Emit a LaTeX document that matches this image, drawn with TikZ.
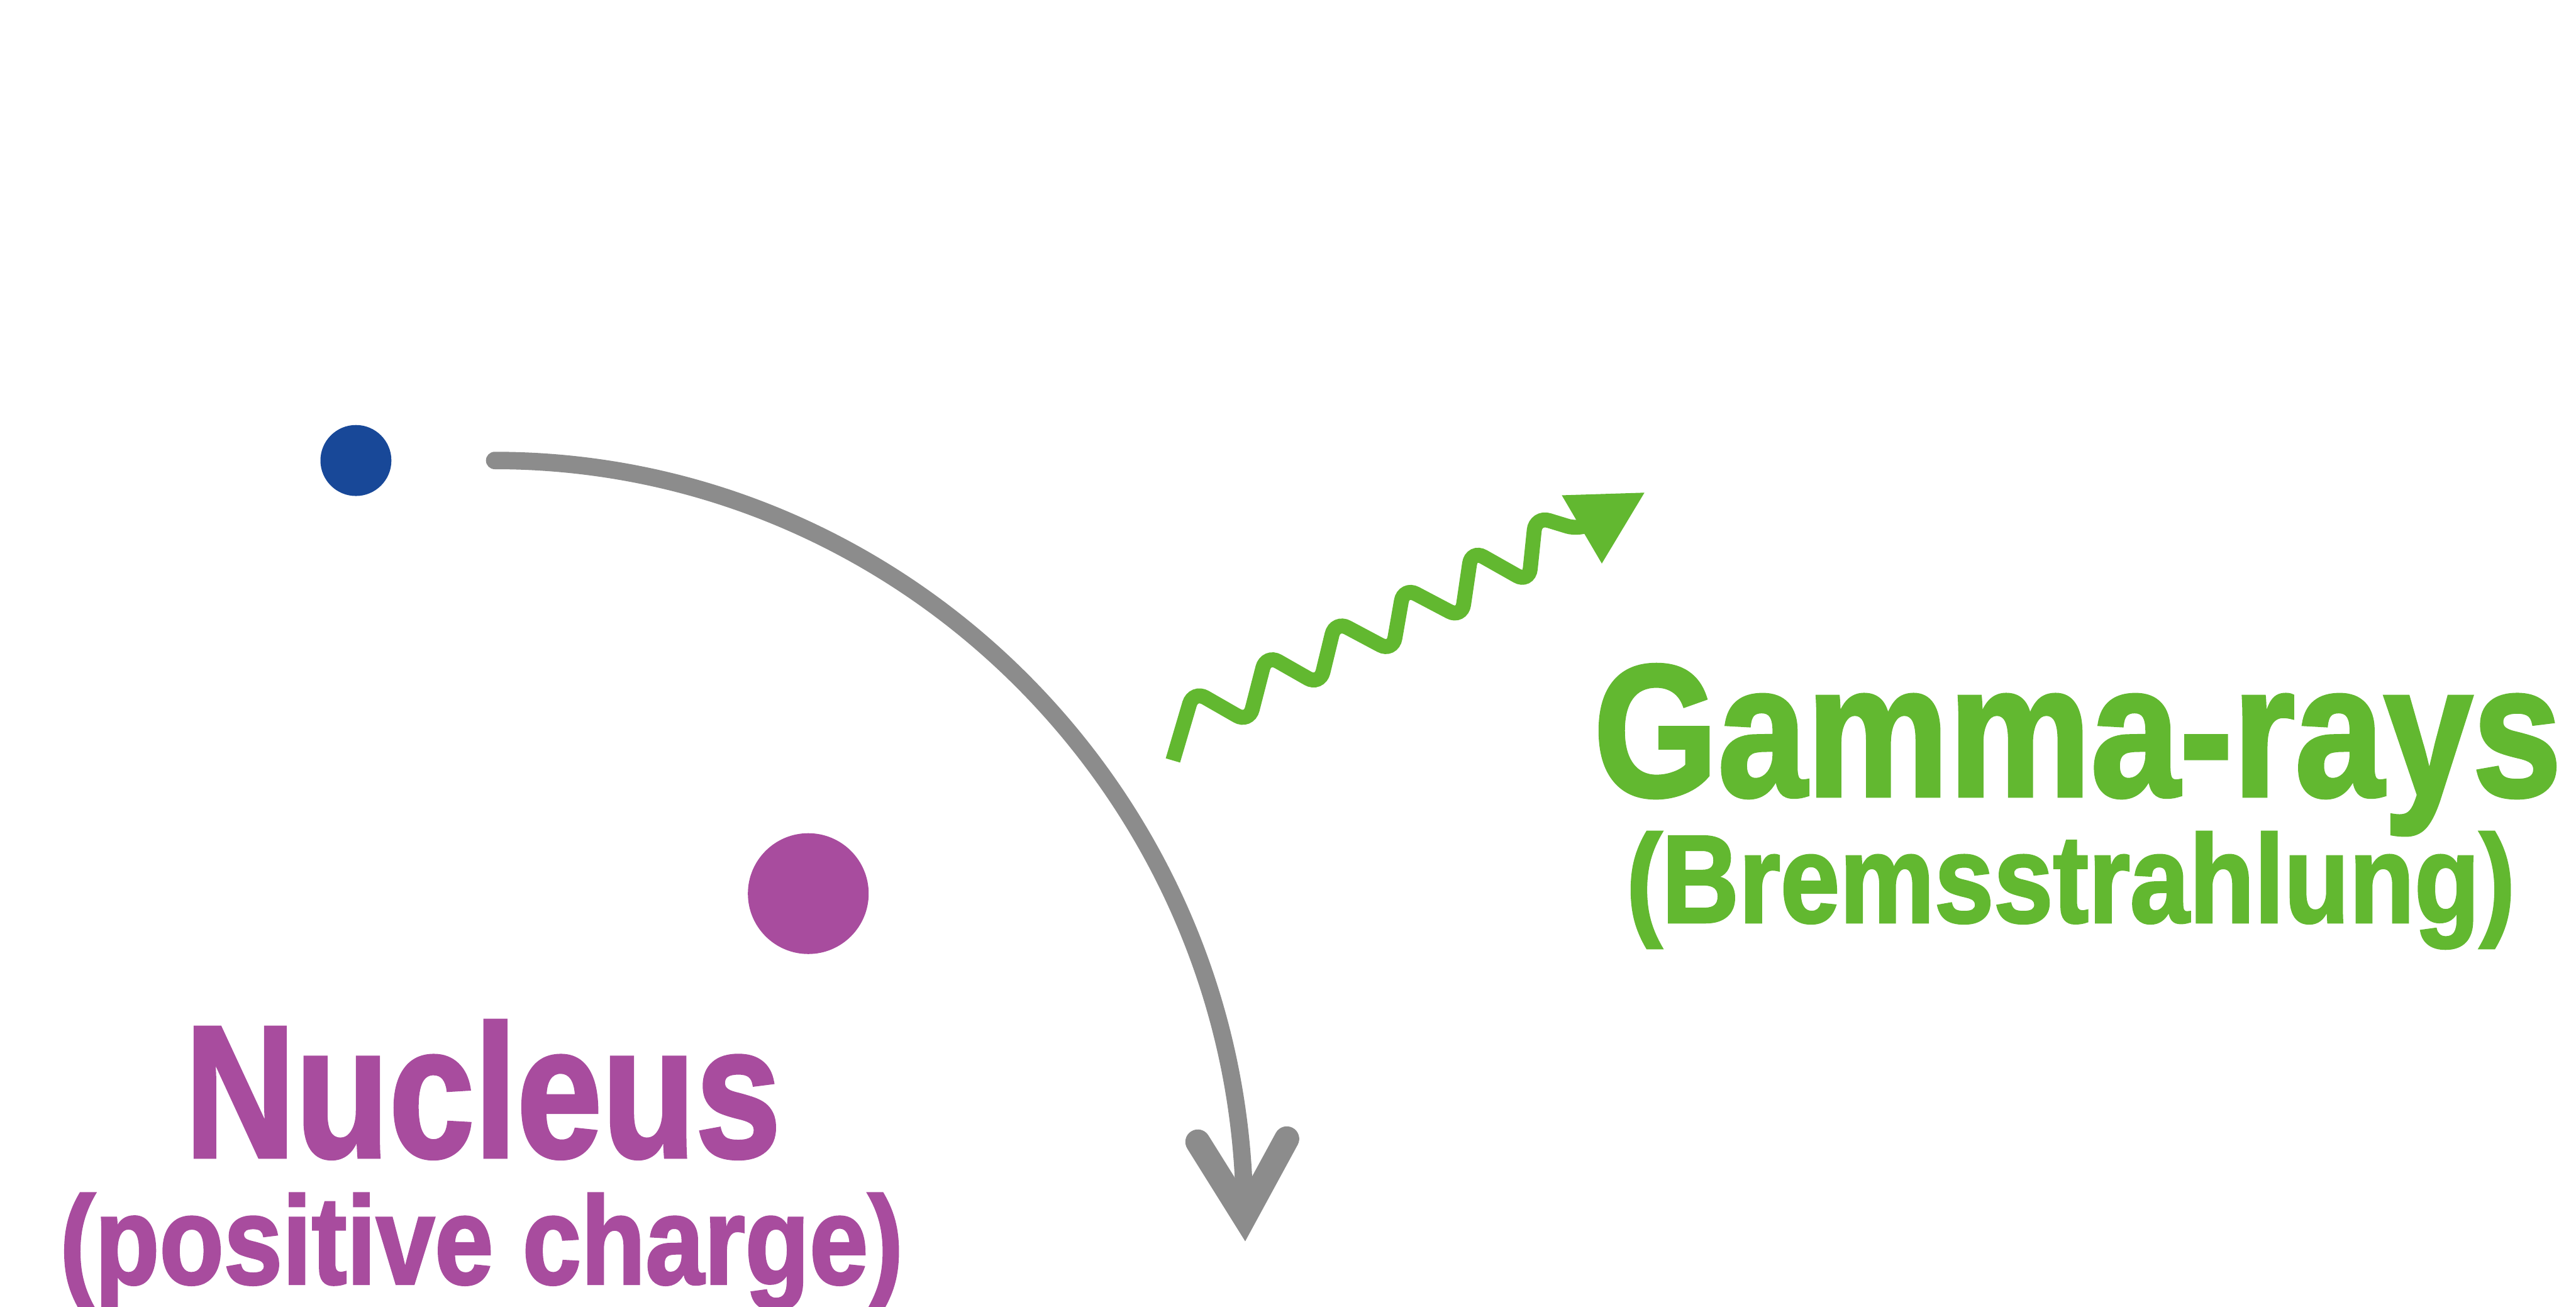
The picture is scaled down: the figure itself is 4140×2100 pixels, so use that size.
\documentclass[tikz,border=0pt]{standalone}
\usepackage{fontspec}
\usepackage{graphicx}
\setmainfont{Liberation Sans}
\newfontfamily\heavysans[FakeBold=2]{Liberation Sans Bold}
\usetikzlibrary{arrows.meta}

\definecolor{electronblue}{RGB}{24,72,152}
\definecolor{nucleusmagenta}{RGB}{168,76,158}
\definecolor{gammagreen}{RGB}{98,184,48}
\definecolor{pathgray}{RGB}{140,140,140}

\tikzset{
  particle/.style={circle, inner sep=0pt, draw=none},
  elpath/.style={draw=pathgray, line width=0.28cm, line cap=round},
  elhead/.style={draw=pathgray, line width=0.40cm, line cap=round,
    line join=miter},
  photon/.style={draw=gammagreen, line width=0.24cm, rounded corners=0.22cm,
    -{Triangle[length=1.18cm, width=1.2cm]}},
  biglabel/.style={inner sep=0pt, anchor=base,
    font=\heavysans\fontsize{85.9pt}{86pt}\selectfont},
  sublabel/.style={inner sep=0pt, anchor=base,
    font=\heavysans\fontsize{57pt}{58pt}\selectfont},
}

\begin{document}
\begin{tikzpicture}[x=0.01cm, y=-0.01cm]
  \useasboundingbox (0,0) rectangle (4140,2100);

  % particles
  \node[particle, fill=electronblue, minimum size=1.14cm] (electron) at (572,740) {};
  \node[particle, fill=nucleusmagenta, minimum size=1.94cm] (nucleus) at (1299,1436) {};

  % deflected electron path with an open chevron head
  \coordinate (pathstart) at (795,740);
  \coordinate (pathend) at (2000,1955);
  \draw[elpath] (pathstart) .. controls (1460,740) and (2000,1290) .. (pathend);
  \draw[elhead] (pathend) ++(-75,-120) -- (pathend) -- ++(68,-125);

  % emitted photon
  \coordinate (wavestart) at (1885,1222);
  \coordinate (wavetip) at (2644,791);
  \draw[photon] (wavestart)
    -- (1918,1110) -- (2007,1161)
    -- (2035,1052) -- (2121,1101)
    -- (2146,998)  -- (2238,1047)
    -- (2256,944)  -- (2349,993)
    -- (2365,884)  -- (2457,936)
    -- (2468,830)  -- (2540,852)
    -- (wavetip);

  % labels
  \node[biglabel, text=nucleusmagenta] (nuclabel) at (776,1859)
    {\scalebox{0.815}[1]{Nucleus}};
  \node[sublabel, text=nucleusmagenta] (chargelabel) at (774,2063)
    {\scalebox{0.845}[1]{(positive charge)}};
  \node[biglabel, text=gammagreen] (gammalabel) at (3339,1279)
    {\scalebox{0.85}[1]{Gamma-rays}};
  \node[sublabel, text=gammagreen] (bremslabel) at (3328,1482)
    {\scalebox{0.855}[1]{(Bremsstrahlung)}};
\end{tikzpicture}
\end{document}
